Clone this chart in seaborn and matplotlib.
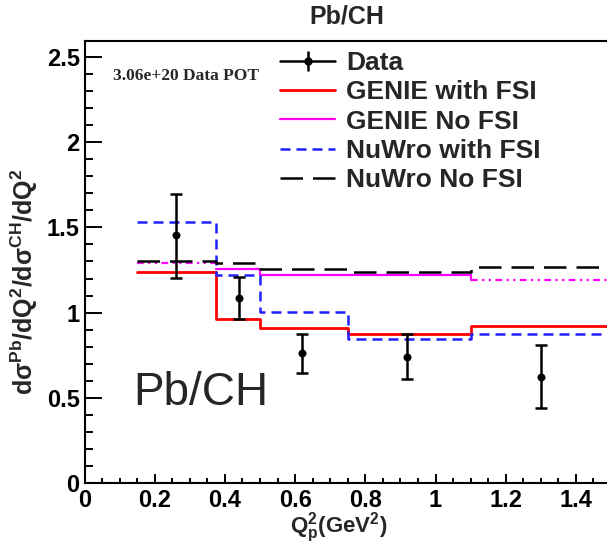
import numpy as np
import pandas as pd
import matplotlib
matplotlib.use('Agg')
import matplotlib.pyplot as plt
import seaborn as sns
from matplotlib.lines import Line2D
from matplotlib.ticker import MultipleLocator, FormatStrFormatter

# Bin edges of Q2_p (GeV^2) and the Pb/CH ratio in each bin
bin_edges = [0.15, 0.375, 0.5, 0.75, 1.1, 1.5]
data_x = [0.26, 0.44, 0.62, 0.92, 1.30]
data_y = [1.455, 1.084, 0.761, 0.741, 0.624]
data_lo = [1.205, 0.961, 0.647, 0.609, 0.442]
data_hi = [1.696, 1.207, 0.874, 0.873, 0.810]

genie_fsi = [1.240, 0.961, 0.908, 0.874, 0.923]
genie_nofsi = [1.289, 1.254, 1.221, 1.221, 1.191]
nuwro_fsi = [1.533, 1.221, 1.005, 0.843, 0.874]
nuwro_nofsi = [1.303, 1.293, 1.254, 1.240, 1.269]

legend_labels = ['Data', 'GENIE with FSI', 'GENIE No FSI', 'NuWro with FSI', 'NuWro No FSI']

sns.set_style('ticks')
plt.rcParams['font.family'] = ['Liberation Sans', 'DejaVu Sans']
plt.rcParams['mathtext.fontset'] = 'custom'
plt.rcParams['mathtext.rm'] = 'Liberation Sans'
plt.rcParams['mathtext.bf'] = 'Liberation Sans:bold'
plt.rcParams['mathtext.it'] = 'Liberation Sans:italic'


def step_frame(values, lo=0, hi=None):
    # histogram style: repeat last value at the closing edge
    edges = bin_edges[lo:(hi + 1 if hi is not None else None)]
    vals = values[lo:hi]
    return pd.DataFrame({'x': edges, 'y': list(vals) + [vals[-1]]})


W, H = 607, 548
fig = plt.figure(figsize=(W / 100, H / 100), dpi=100)
ax = fig.add_axes([84.5 / W, 1 - 483 / H, 1 - 84.5 / W, (483 - 41) / H])

ddd = (0, (3, 2, 1, 2, 1, 2))
blue_dash = (0, (4, 2.4))
black_dash = (0, (9, 4))

# GENIE No FSI (magenta): dotted in outer bins, solid in the middle
sns.lineplot(data=step_frame(genie_nofsi, 0, 1), x='x', y='y', ax=ax, color='#ff00ff',
             lw=1.6, linestyle=ddd, drawstyle='steps-post', estimator=None, sort=False)
sns.lineplot(data=step_frame(genie_nofsi, 1, 4), x='x', y='y', ax=ax, color='#ff00ff',
             lw=1.6, drawstyle='steps-post', estimator=None, sort=False)
sns.lineplot(data=step_frame(genie_nofsi, 4, 5), x='x', y='y', ax=ax, color='#ff00ff',
             lw=1.6, linestyle=ddd, drawstyle='steps-post', estimator=None, sort=False)
ax.plot([bin_edges[4], bin_edges[4]], [genie_nofsi[3], genie_nofsi[4]], color='#ff00ff', lw=1.6)

sns.lineplot(data=step_frame(genie_fsi), x='x', y='y', ax=ax, color='#ff0000',
             lw=2.0, drawstyle='steps-post', estimator=None, sort=False)
sns.lineplot(data=step_frame(nuwro_fsi), x='x', y='y', ax=ax, color='#2020ff',
             lw=1.8, linestyle=blue_dash, drawstyle='steps-post', estimator=None, sort=False)
sns.lineplot(data=step_frame(nuwro_nofsi), x='x', y='y', ax=ax, color='black',
             lw=1.8, linestyle=black_dash, drawstyle='steps-post', estimator=None, sort=False)

# Data with error bars
yerr = [np.array(data_y) - np.array(data_lo), np.array(data_hi) - np.array(data_y)]
ax.errorbar(data_x, data_y, yerr=yerr, fmt='none', ecolor='black', elinewidth=1.8,
            capsize=4, capthick=1.8, zorder=5)
sns.scatterplot(x=data_x, y=data_y, ax=ax, color='black', s=28, edgecolor='black', zorder=6)

ax.set_xlim(0, (W - 84.5) / 351.0)
ax.set_ylim(0, (483 - 41) / 170.4)

ax.xaxis.set_major_locator(MultipleLocator(0.2))
ax.xaxis.set_minor_locator(MultipleLocator(0.05))
ax.yaxis.set_major_locator(MultipleLocator(0.5))
ax.yaxis.set_minor_locator(MultipleLocator(0.1))
ax.xaxis.set_major_formatter(FormatStrFormatter('%g'))
ax.yaxis.set_major_formatter(FormatStrFormatter('%g'))

ax.tick_params(axis='both', which='both', direction='in', width=1.4, colors='black')
ax.tick_params(axis='y', which='major', length=12, pad=3.5)
ax.tick_params(axis='y', which='minor', length=6)
ax.tick_params(axis='x', which='major', length=6.5, pad=4)
ax.tick_params(axis='x', which='minor', length=3.6)
for lab in ax.get_xticklabels() + ax.get_yticklabels():
    lab.set_fontweight('bold')
    lab.set_fontsize(17)

for side in ['left', 'bottom', 'top']:
    ax.spines[side].set_linewidth(1.5)
    ax.spines[side].set_color('black')
ax.spines['right'].set_visible(False)

ax.set_xlabel(r'$\mathbf{Q^{2}_{p}(GeV^{2})}$', fontsize=16, va='center')
ax.xaxis.set_label_coords((339 - 84.5) / (W - 84.5), (483 - 528) / 442)
ax.set_ylabel(r'$\mathbf{d\sigma^{Pb}/dQ^{2}/d\sigma^{CH}/dQ^{2}}$', fontsize=18, va='center')
ax.yaxis.set_label_coords((24 - 84.5) / (W - 84.5), (483 - 282) / 442)

fig.text(347 / W, 1 - 17 / H, 'Pb/CH', ha='center', va='center', fontsize=18, fontweight='bold')
fig.text(113 / W, 1 - 76 / H, '3.06e+20 Data POT', ha='left', va='center', fontsize=12.5,
         fontweight='bold', family=['Liberation Serif', 'DejaVu Serif'])
fig.text(133 / W, 1 - 405 / H, 'Pb/CH', ha='left', va='baseline', fontsize=33)

handles = [
    (Line2D([], [], color='black', lw=1.8, marker='|', ms=14, mew=1.8),
     Line2D([], [], color='black', ls='none', marker='o', ms=5)),
    Line2D([], [], color='#ff0000', lw=2.0),
    Line2D([], [], color='#ff00ff', lw=1.6),
    Line2D([], [], color='#2020ff', lw=1.8, linestyle=blue_dash),
    Line2D([], [], color='black', lw=1.8, linestyle=black_dash),
]
leg = fig.legend(handles, legend_labels, loc='upper left', bbox_to_anchor=(280 / W, 1 - 51 / H),
                 frameon=False, prop={'weight': 'bold', 'size': 19}, borderpad=0,
                 borderaxespad=0, handlelength=2.1, handletextpad=0.4, labelspacing=0.2)

fig.savefig('out.png', dpi=100)
